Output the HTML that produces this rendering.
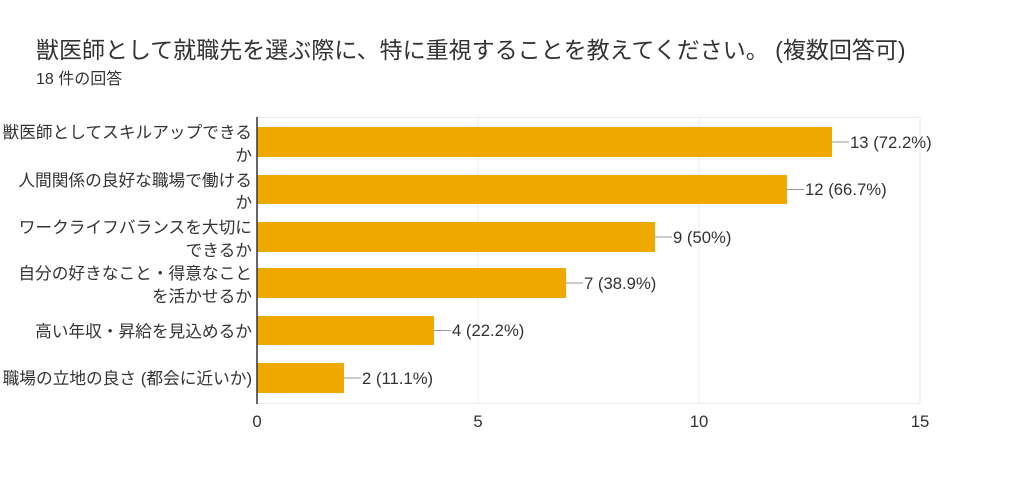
<!DOCTYPE html><html><head><meta charset="utf-8"><style>body{margin:0;background:#fff}svg{display:block}text{font-family:"Liberation Sans","Noto Sans CJK JP",sans-serif;fill:#333}</style></head><body>
<svg width="1024" height="487" xmlns="http://www.w3.org/2000/svg">
<text x="36" y="58" font-size="23" fill="#222">獣医師として就職先を選ぶ際に、特に重視することを教えてください。 (複数回答可)</text>
<text x="36" y="84" font-size="16">18 件の回答</text>
<g stroke="#ebebeb" stroke-width="1">
<line x1="478" y1="117" x2="478" y2="404"/><line x1="699" y1="117" x2="699" y2="404"/><line x1="920" y1="117" x2="920" y2="404"/><line x1="257" y1="117.5" x2="920" y2="117.5"/><line x1="257" y1="403.5" x2="920" y2="403.5"/>
</g>
<g fill="#efa900">
<rect x="257" y="127" width="575" height="30"/>
<rect x="257" y="175" width="530" height="29"/>
<rect x="257" y="222" width="398" height="30"/>
<rect x="257" y="268" width="309" height="30"/>
<rect x="257" y="316" width="177" height="29"/>
<rect x="257" y="363" width="87" height="30"/>
</g>
<line x1="257" y1="117" x2="257" y2="404" stroke="#333" stroke-width="1.5"/>
<g stroke="#999"><line x1="832" y1="142" x2="849" y2="142"/><line x1="787" y1="189.5" x2="804" y2="189.5"/><line x1="655" y1="237" x2="672" y2="237"/><line x1="566" y1="283" x2="583" y2="283"/><line x1="434" y1="330.5" x2="451" y2="330.5"/><line x1="344" y1="378" x2="361" y2="378"/></g>
<g font-size="16.7">
<text x="850" y="148">13 (72.2%)</text><text x="805" y="195">12 (66.7%)</text><text x="673" y="243">9 (50%)</text><text x="584" y="289">7 (38.9%)</text><text x="452" y="336">4 (22.2%)</text><text x="362" y="384">2 (11.1%)</text>
</g>
<g font-size="16.7" text-anchor="end">
<text x="252" y="138">獣医師としてスキルアップできる</text><text x="252" y="161">か</text>
<text x="252" y="186">人間関係の良好な職場で働ける</text><text x="252" y="208">か</text>
<text x="252" y="233">ワークライフバランスを大切に</text><text x="252" y="256">できるか</text>
<text x="252" y="279">自分の好きなこと・得意なこと</text><text x="252" y="302">を活かせるか</text>
<text x="252" y="337">高い年収・昇給を見込めるか</text>
<text x="252" y="384">職場の立地の良さ (都会に近いか)</text>
</g>
<g font-size="16.7" text-anchor="middle" fill="#444">
<text x="257" y="427">0</text><text x="478" y="427">5</text><text x="699" y="427">10</text><text x="920" y="427">15</text>
</g>
</svg></body></html>
